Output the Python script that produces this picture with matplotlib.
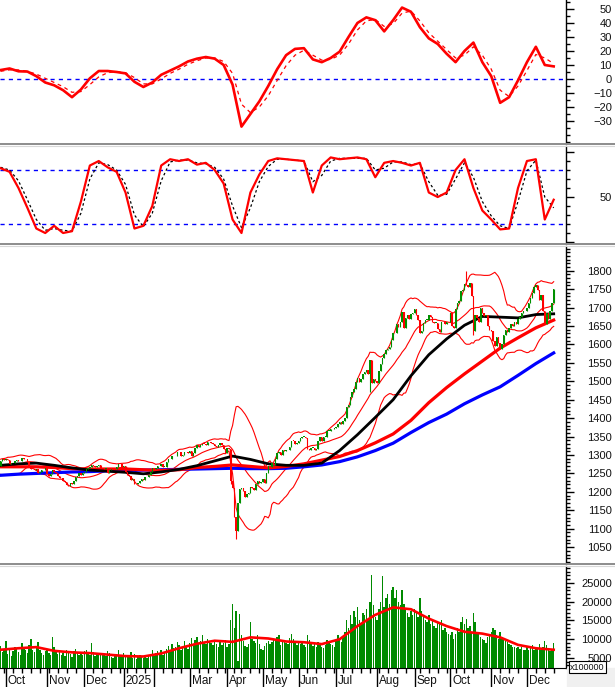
import numpy as np
import pandas as pd
import matplotlib
matplotlib.use("Agg")
import matplotlib.pyplot as plt
import matplotlib.transforms as mtransforms
from matplotlib.lines import Line2D
from matplotlib.patches import Rectangle

plt.rcParams['font.family'] = ['Liberation Sans', 'DejaVu Sans']

# Dni handlowe (bez swiat)
holidays = ['2025-01-01', '2025-01-27', '2025-01-28', '2025-01-29', '2025-01-30',
            '2025-01-31', '2025-04-07', '2025-04-30', '2025-05-01', '2025-05-02',
            '2025-09-01', '2025-09-02']

# 19 sesji przed poczatkiem wykresu (do wstęg Bollingera)
pre_close = [1283, 1285, 1283, 1268, 1275, 1274, 1259, 1263, 1258, 1265,
             1265, 1249, 1252, 1256, 1265, 1263, 1270, 1273, 1269]

# Kurs zamkniecia - sesja po sesji (wrz 2024 - gru 2025)
close = [
    1284, 1290, 1287,
    1288, 1287, 1276, 1279, 1278, 1283, 1286, 1285, 1283, 1291, 1290, 1289, 1282, 1270, 1263,
    1262, 1258, 1262, 1252, 1254, 1259, 1260, 1264,
    1248, 1244, 1248, 1259, 1255, 1252, 1244, 1238, 1237, 1229, 1226, 1218, 1217, 1223, 1221,
    1229, 1240, 1243, 1250, 1246, 1250,
    1254, 1262, 1266, 1268, 1274, 1270, 1268, 1269, 1272, 1264, 1264, 1262, 1263, 1252, 1258,
    1263, 1261, 1262, 1268, 1275, 1275, 1267,
    1269, 1254, 1245, 1242, 1231, 1236, 1222, 1220, 1223, 1229, 1236, 1233, 1241, 1240, 1245,
    1254, 1265,
    1263, 1264, 1271, 1270, 1275, 1268, 1268, 1282, 1288, 1289, 1297, 1296, 1298, 1307, 1308,
    1296, 1300, 1308, 1307, 1305,
    1310, 1297, 1305, 1318, 1326, 1321, 1326, 1331, 1330, 1326, 1334, 1334, 1332, 1330, 1325,
    1322, 1328, 1333, 1327, 1317, 1306,
    1318, 1317, 1229, 1210, 1133, 1094, 1169, 1209, 1210, 1203, 1185, 1194, 1197, 1212, 1210,
    1205, 1220, 1229, 1224, 1227,
    1236, 1225, 1250, 1269, 1267, 1278, 1274, 1288, 1305, 1309, 1300, 1314, 1310, 1313, 1314,
    1321, 1339, 1338, 1331, 1332,
    1339, 1346, 1349, 1350, 1346, 1316, 1314, 1319, 1320, 1314, 1316, 1337, 1349, 1338, 1349,
    1349, 1366, 1366, 1370, 1370, 1372,
    1377, 1385, 1389, 1383, 1392, 1401, 1429, 1435, 1458, 1471, 1480, 1498, 1509, 1497, 1505,
    1520, 1526, 1531, 1521, 1557, 1495, 1507, 1502,
    1495, 1528, 1547, 1562, 1573, 1584, 1588, 1594, 1611, 1630, 1630, 1655, 1646, 1660, 1688,
    1645, 1672, 1680, 1670, 1682, 1686,
    1696, 1680, 1666, 1630, 1637, 1659, 1667, 1667, 1680, 1675, 1660, 1658, 1658, 1642, 1633,
    1660, 1660, 1655, 1660, 1661,
    1685, 1650, 1645, 1696, 1713, 1717, 1746, 1747, 1765, 1761, 1757, 1766, 1731, 1636, 1681,
    1672, 1660, 1700, 1686, 1678, 1680, 1650, 1640,
    1636, 1610, 1595, 1620, 1605, 1588, 1600, 1625, 1640, 1635, 1645, 1655, 1650, 1660, 1655,
    1668, 1675, 1685, 1690, 1692,
    1700, 1712, 1725, 1740, 1755, 1762, 1748, 1720, 1735, 1690, 1655, 1685, 1670, 1690, 1712,
    1750,
]
wick_low = {129: 1222, 132: 1073, 207: 1470, 265: 1625}
wick_high = {261: 1800}

# Wolumen (x100 jednostek osi)
volume = [
    82, 65, 70,
    95, 60, 72, 55, 68, 80, 74, 66, 58, 90, 77, 70, 63, 85, 100, 72, 66, 78, 92, 70, 64, 58, 69,
    75, 62, 58, 105, 80, 66, 60, 72, 58, 63, 55, 70, 66, 60, 52, 68, 74, 62, 58, 61, 57,
    68, 72, 62, 58, 90, 65, 55, 60, 63, 58, 57, 61, 54, 68, 62, 52, 50, 55, 60, 72, 58, 56,
    62, 58, 55, 52, 66, 50, 60, 48, 52, 57, 55, 50, 53, 49, 56, 60, 72,
    55, 62, 68, 60, 72, 58, 64, 75, 82, 70, 88, 76, 80, 92, 85, 70, 78, 96, 82, 74,
    90, 102, 85, 98, 105, 88, 94, 110, 92, 86, 100, 95, 90, 84, 96, 88, 79, 92, 85, 90, 98,
    80, 88, 150, 195, 130, 175, 42, 168, 110, 96, 82, 80, 88, 145, 100, 95, 90, 110, 86, 75,
    70, 82, 90, 95, 88, 92, 100, 96, 105, 110, 85, 98, 94, 90, 88, 102, 115, 100, 92, 85,
    95, 88, 92, 85, 80, 110, 98, 86, 82, 90, 78, 92, 85, 80, 76, 84, 98, 92, 88, 84, 80,
    95, 110, 100, 92, 105, 120, 150, 130, 165, 140, 175, 160, 185, 150, 140, 170, 165, 180,
    150, 200, 270, 190, 160,
    150, 180, 200, 268, 185, 210, 220, 195, 230, 240, 210, 230, 200, 190, 230, 195, 180, 170,
    160, 175, 165,
    180, 170, 160, 210, 175, 160, 150, 145, 165, 140, 150, 135, 130, 145, 140, 150, 125, 130,
    120, 115,
    110, 120, 100, 115, 130, 120, 145, 160, 140, 155, 130, 135, 120, 170, 145, 120, 115, 105,
    100, 98, 90, 105, 112,
    120, 130, 125, 110, 100, 118, 105, 100, 95, 92, 88, 84, 80, 78, 76, 80, 74, 78, 72, 70,
    78, 72, 80, 85, 70, 76, 74, 88, 72, 80, 95, 85, 70, 68, 75, 90,
]

# Wskazniki odczytane co 5 sesji
step5 = list(range(0, 311, 5))
macd = [6.4, 7.5, 5.5, 5.3, 2, -2.5, -4.5, -8, -13, -7.5, 0.5, 5.7, 5.7, 5, 4, -2, -5.7,
        -2.5, 3, 6, 9, 12.5, 14.5, 15.7, 14.5, 10, -4, -34, -25, -16, -5, 7, 17, 21.5, 22, 14,
        12, 15, 19.5, 30, 40, 44, 42, 34, 42, 51, 48, 37, 29, 25, 18, 12, 20, 26, 12, 2, -17,
        -13, -1, 12, 23, 10, 9]
macd_signal = [5.5, 6.5, 6.5, 5.5, 3.5, 0.5, -2.5, -5.5, -9.5, -9, -4, 1.5, 4.5, 5.3, 4.5, 1,
               -3.5, -3.5, 0, 4, 7, 10.5, 13, 15, 15, 12.5, 4, -18, -24, -20, -12, -1, 9.5, 17,
               20.5, 17, 13.5, 14, 17, 25, 35, 41.5, 42.5, 37.5, 39.5, 47, 48.5, 41.5, 33, 27,
               21, 15, 17, 23, 17, 7, -8, -12.5, -5, 6, 17.5, 15, 11]
stoch_k = [82, 78, 60, 38, 15, 10, 18, 10, 12, 45, 85, 90, 83, 78, 55, 15, 18, 40, 85, 92,
           90, 92, 86, 88, 80, 65, 25, 10, 55, 75, 90, 93, 92, 91, 90, 55, 85, 94, 92, 93,
           94, 92, 72, 88, 90, 88, 85, 88, 55, 50, 55, 80, 92, 60, 35, 25, 14, 15, 60, 90,
           92, 25, 47]
stoch_d = [83, 80, 68, 47, 25, 13, 15, 13, 12, 32, 70, 88, 86, 80, 64, 30, 17, 32, 68, 89,
           91, 91, 88, 87, 83, 70, 40, 16, 38, 67, 84, 92, 92, 91, 90, 67, 74, 90, 93, 93,
           93, 93, 80, 82, 89, 89, 86, 87, 67, 52, 53, 70, 88, 72, 45, 29, 18, 15, 45, 79,
           91, 50, 38]

# Srednie kroczace odczytane co 10 sesji
step10 = list(range(0, 311, 10))
ma_black = [1272, 1276, 1278, 1272, 1265, 1259, 1256, 1253, 1249, 1254, 1261, 1271, 1284,
            1297, 1288, 1276, 1272, 1272, 1278, 1312, 1355, 1402, 1450, 1515, 1572, 1615,
            1652, 1676, 1674, 1672, 1681, 1683]
ma_red = [1268, 1268, 1268, 1266, 1263, 1262, 1262, 1262, 1260, 1258, 1260, 1266, 1269, 1273,
          1269, 1265, 1269, 1276, 1286, 1296, 1312, 1333, 1357, 1394, 1442, 1483, 1520, 1555,
          1590, 1618, 1645, 1666]
ma_blue = [1245, 1248, 1250, 1252, 1254, 1255, 1257, 1258, 1259, 1260, 1261, 1262, 1263, 1264,
           1263, 1263, 1264, 1268, 1273, 1282, 1295, 1312, 1332, 1361, 1388, 1411, 1439, 1463,
           1485, 1516, 1548, 1577]
vol_ma = [7200, 7600, 7900, 6900, 6500, 6300, 5900, 5500, 5400, 6200, 7600, 8800, 9600, 9300,
          10500, 10200, 9400, 9200, 8700, 10000, 13500, 16500, 18500, 18000, 15500, 13500,
          12000, 11500, 10500, 8500, 7600, 7200]

month_names = ['Oct', 'Nov', 'Dec', '2025', '', 'Mar', 'Apr', 'May', 'Jun', 'Jul', 'Aug',
               'Sep', 'Oct', 'Nov', 'Dec']

RED = '#ff0000'
GREEN = '#009000'
VGREEN = '#008a00'
BLUE = '#0000ff'
W, H = 615, 687


def main():
    dates = pd.bdate_range('2024-09-26', '2025-12-22')
    dates = dates[~dates.isin(pd.to_datetime(holidays))]
    n = len(close)
    x = np.arange(n)

    c = np.array(close, dtype=float)
    o = np.array([pre_close[-1]] + close[:-1], dtype=float)
    hi = np.maximum(o, c)
    lo = np.minimum(o, c)
    for i, v in wick_low.items():
        lo[i] = v
    for i, v in wick_high.items():
        hi[i] = v

    full = pd.Series(pre_close + close, dtype=float)
    mid = full.rolling(20).mean().to_numpy()[len(pre_close):]
    sd = full.rolling(20).std(ddof=0).to_numpy()[len(pre_close):]
    upper = mid + 2 * sd
    lower = mid - 2 * sd

    fig = plt.figure(figsize=(W / 100, H / 100), dpi=100)

    def panel(top, bottom):
        return fig.add_axes([0, 1 - bottom / H, 566 / W, (bottom - top) / H])

    ax1 = panel(0, 143)
    ax2 = panel(146, 243)
    ax3 = panel(246, 563)
    ax4 = panel(566, 668)
    axes = [ax1, ax2, ax3, ax4]

    # MACD
    ax1.axhline(0, color=BLUE, lw=1, ls=(0, (3, 3)))
    ax1.plot(step5, macd_signal, color=RED, lw=0.9, ls=(0, (3, 3)))
    ax1.plot(step5, macd, color=RED, lw=1.9)
    ax1.set_ylim(-45.7, 56.4)
    ax1.set_yticks(range(-30, 60, 10))
    ax1.set_yticks(range(-45, 56, 5), minor=True)

    # Stochastic
    ax2.axhline(80, color=BLUE, lw=1, ls=(0, (3, 3)))
    ax2.axhline(20, color=BLUE, lw=1, ls=(0, (3, 3)))
    ax2.plot(step5, stoch_d, color='black', lw=0.9, ls=(0, (2, 2)))
    ax2.plot(step5, stoch_k, color=RED, lw=1.6)
    ax2.set_ylim(-1.1, 106.7)
    ax2.set_yticks([0, 50, 100])
    ax2.set_yticklabels(['', '50', ''])
    ax2.set_yticks(range(0, 101, 10), minor=True)

    # Cena: wstegi, srednie, swiece
    ax3.plot(x, upper, color=RED, lw=0.8)
    ax3.plot(x, mid, color=RED, lw=0.8)
    ax3.plot(x, lower, color=RED, lw=0.8)
    ax3.plot(step10, ma_blue, color=BLUE, lw=2.3, zorder=3)
    ax3.plot(step10, ma_red, color=RED, lw=2.3, zorder=3)
    ax3.plot(step10, ma_black, color='black', lw=2.0, zorder=3)
    up = c >= o
    cols = np.where(up, GREEN, RED)
    ax3.vlines(x, lo, hi, colors=cols, lw=0.8, zorder=4)
    body_h = np.maximum(np.abs(c - o), 1.5)
    ax3.bar(x, body_h, bottom=np.minimum(o, c), width=0.8, color=cols, lw=0, zorder=4)
    ax3.set_ylim(1007, 1867)
    ax3.set_yticks(range(1050, 1801, 50))
    ax3.set_yticks(range(1010, 1861, 10), minor=True)

    # Wolumen
    ax4.bar(x, np.array(volume) * 100, width=0.8, color=VGREEN, lw=0)
    ax4.plot(step10, vol_ma, color=RED, lw=1.9)
    ax4.set_ylim(2330, 29530)
    ax4.set_yticks(range(5000, 25001, 5000))
    ax4.set_yticks(range(3000, 29001, 1000), minor=True)

    for ax in axes:
        ax.set_xlim(-0.36, 316.9)
        ax.set_facecolor('white')
        for s in ['left', 'top', 'bottom']:
            ax.spines[s].set_visible(False)
        ax.spines['right'].set_color('black')
        ax.spines['right'].set_linewidth(1)
        ax.yaxis.tick_right()
        ax.tick_params(axis='y', which='major', direction='out', length=6, width=1,
                       pad=27, labelsize=8, labelcolor='#111111')
        ax.tick_params(axis='y', which='minor', direction='out', length=3, width=1)
        for lab in ax.get_yticklabels():
            lab.set_horizontalalignment('right')
        if ax is not ax4:
            ax.tick_params(axis='x', which='both', bottom=False, labelbottom=False)

    # Os czasu
    ax4.spines['bottom'].set_visible(True)
    ax4.spines['bottom'].set_color('black')
    month_start = [i for i in range(1, n) if dates[i].month != dates[i - 1].month]
    week_start = [i for i in range(1, n) if dates[i].weekday() < dates[i - 1].weekday()]
    ax4.set_xticks(month_start)
    ax4.set_xticklabels([])
    ax4.set_xticks(week_start, minor=True)
    ax4.tick_params(axis='x', which='major', direction='out', length=14, width=1)
    ax4.tick_params(axis='x', which='minor', direction='out', length=3.5, width=1)
    trans = mtransforms.blended_transform_factory(ax4.transData, ax4.transAxes)
    for idx, name in zip(month_start, month_names):
        ax4.text(idx + 1.0, -0.125, name, transform=trans, ha='left', va='center',
                 fontsize=8.5, color='#111111')

    # Separatory paneli
    for y in [144, 244, 564]:
        fig.add_artist(Line2D([0, 1], [1 - y / H, 1 - y / H], transform=fig.transFigure,
                              color='#8c8c8c', lw=1.4, zorder=10))
        fig.add_artist(Line2D([0, 1], [1 - (y + 1.5) / H, 1 - (y + 1.5) / H],
                              transform=fig.transFigure, color='#d8d8d8', lw=0.8, zorder=10))

    fig.add_artist(Rectangle((567 / W, 0), 48 / W, 19 / H, transform=fig.transFigure,
                             color='#f0f0f0', zorder=5))
    fig.text(570 / W, 1 - 667 / H, 'x100000', fontsize=6.5, color='#111111',
             ha='left', va='center', zorder=11,
             bbox=dict(boxstyle='square,pad=0.15', fc='white', ec='black', lw=0.8))

    fig.savefig('out.png', dpi=100, facecolor='white')
    plt.close(fig)


if __name__ == '__main__':
    main()
